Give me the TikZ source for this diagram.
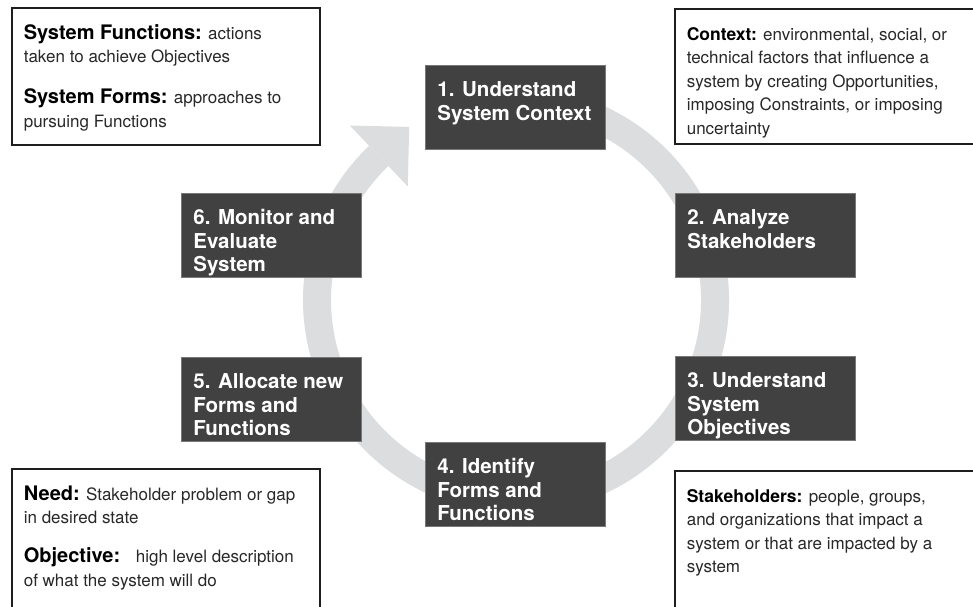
\documentclass[tikz,border=0pt]{standalone}
\usepackage{fontspec}
\setmainfont{TeX Gyre Heros}
\usetikzlibrary{calc}
\definecolor{ringgray}{RGB}{220,221,223}
\definecolor{stepfill}{RGB}{65,65,65}
\definecolor{stepedge}{RGB}{120,120,120}
\definecolor{noteedge}{RGB}{30,30,30}
\definecolor{notetext}{RGB}{40,40,40}

% step box content: fixed-size box, first baseline 31.5pt below the top
\newcommand{\steptext}[1]{\parbox[c][84pt][t]{156pt}{\rule{0pt}{31.5pt}#1}}
\newcommand{\notetextbox}[3]{\parbox[c][#1][t]{#2}{\rule{0pt}{31.5pt}#3}}
\newcommand{\termL}[1]{{\fontsize{20}{23.5}\selectfont\bfseries\color{black}#1}}
\newcommand{\termR}[1]{{\fontsize{17.5}{23.5}\selectfont\bfseries\color{black}#1}}

\begin{document}
\begin{tikzpicture}[x=1pt,y=-1pt,
  stepbox/.style={draw=stepedge, line width=0.8pt, fill=stepfill, text=white,
    anchor=north west, inner xsep=12pt, inner ysep=0pt,
    font=\bfseries\fontsize{20.5}{23.5}\selectfont},
  notebox/.style={draw=noteedge, line width=1.6pt, fill=white, text=notetext,
    anchor=north west, inner xsep=12pt, inner ysep=0pt,
    font=\fontsize{17}{23.5}\selectfont},
  ringline/.style={draw=ringgray, line width=28pt},
  ringhead/.style={fill=ringgray}]

\clip (0,0) rectangle (973,606);
\fill[white] (0,0) rectangle (973,606);

% cycle ring with its arrowhead
\coordinate (C) at (516,300);
\draw[ringline] ($(C)+(-100:199)$) arc[start angle=-100, end angle=226.4, radius=199] coordinate (E);
\fill[ringhead] ($(E)+(-43.6:42)$) -- ($(E)+(-133.6:42)$) -- ($(E)+(46.4:42)$) -- cycle;

% process steps
\node[stepbox] (s1) at (425,65)  {\steptext{1. Understand\\System Context}};
\node[stepbox] (s2) at (675,193) {\steptext{2. Analyze\\Stakeholders}};
\node[stepbox] (s3) at (675,356) {\steptext{3. Understand\\System\\Objectives}};
\node[stepbox] (s4) at (425,442) {\steptext{4. Identify\\Forms and\\Functions}};
\node[stepbox] (s5) at (181,357) {\steptext{5. Allocate new\\Forms and\\Functions}};
\node[stepbox] (s6) at (181,193) {\steptext{6. Monitor and\\Evaluate\\System}};

% definition notes
\node[notebox] (n1) at (11,7) {\notetextbox{137pt}{284pt}{%
  \termL{System Functions:} actions\\taken to achieve Objectives\\[17.5pt]%
  \termL{System Forms:} approaches to\\pursuing Functions}};
\node[notebox] (n2) at (674,8) {\notetextbox{135pt}{300pt}{%
  \termR{Context:} environmental, social, or\\technical factors that influence a\\%
  system by creating Opportunities,\\imposing Constraints, or imposing\\uncertainty}};
\node[notebox] (n3) at (11,468) {\notetextbox{160pt}{284pt}{%
  \termL{Need:} Stakeholder problem or gap\\in desired state\\[15.5pt]%
  \termL{Objective:}\hspace{0.55em} high level description\\of what the system will do}};
\node[notebox] (n4) at (674,470) {\notetextbox{160pt}{300pt}{%
  \termR{Stakeholders:} people, groups,\\and organizations that impact a\\%
  system or that are impacted by a\\system}};
\end{tikzpicture}
\end{document}
